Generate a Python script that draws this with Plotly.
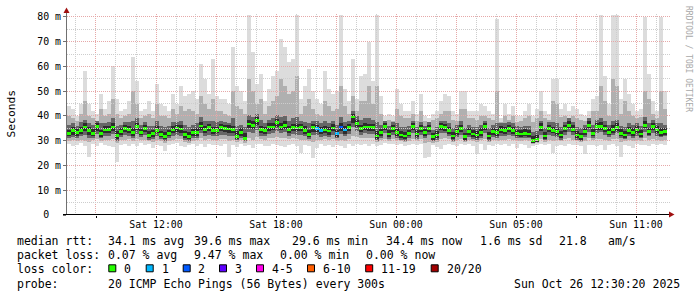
import math
import plotly.graph_objects as go

# ---------------- data ----------------
N_STEPS = 150
STEP_H = 0.2            # hours per smoke column
START_H = -16.45        # hours relative to Sun 00:00 (real time)

median_ms = [
    33.0, 34.0, 33.2, 34.0, 35.5, 34.2, 33.0, 35.8, 33.0, 34.3,
    34.5, 35.6, 32.0, 33.8, 35.0, 34.6, 33.2, 35.8, 33.4, 35.0,
    32.2, 32.8, 34.2, 32.6, 31.8, 33.0, 34.3, 35.2, 34.8, 32.4,
    31.6, 33.2, 33.4, 36.0, 34.6, 35.3, 34.0, 34.2,
    35.4, 35.0, 34.8, 34.5, 31.8, 33.2, 31.0, 36.8, 36.2, 38.2,
    34.5, 34.0, 35.5, 35.6, 37.4, 35.6, 36.3, 34.6, 35.4, 35.2,
    35.4, 34.2, 32.6, 35.3, 34.9, 34.0, 34.3, 33.9, 35.2, 32.8,
    35.5, 34.3, 35.3, 39.6, 37.0, 35.0, 35.6, 35.5,
    35.3, 31.9, 33.3, 35.7, 32.7, 35.0, 33.3, 32.3, 31.9, 33.0,
    35.7, 32.7, 35.0, 33.3, 35.0, 31.6, 32.3, 35.7, 35.4, 34.1,
    31.9, 33.7, 35.0, 31.6, 33.7, 32.7, 32.3, 33.3, 35.7, 31.9,
    33.7, 33.3, 34.3, 34.1, 35.0, 34.1, 33.0,
    32.7, 33.0, 32.7, 30.0, 30.4, 35.4, 31.9, 35.0, 34.1, 33.7,
    32.3, 35.0, 36.3, 34.6, 32.3, 31.6, 33.7, 36.3, 33.0, 35.7,
    35.9, 35.0, 33.3, 34.6, 35.4, 33.0, 32.3, 34.1, 33.3, 34.3,
    32.7, 36.3, 33.7, 35.7, 34.3, 33.3, 33.7,
]

max_ms = [
    44, 43, 40, 45, 58, 45, 42, 41, 49, 43,
    46, 60, 47, 42, 43, 46, 64, 54, 42, 43,
    46, 42, 53, 45, 44, 42, 49, 45, 52, 48,
    49, 50, 47, 61, 55, 49, 63, 48,
    47, 47, 45, 68, 52, 50, 46, 81, 66, 53,
    57, 46, 51, 56, 58, 71, 68, 62, 63, 81,
    47, 52, 59, 50, 47, 45, 58, 51, 49, 50,
    81, 51, 46, 63, 47, 56, 57, 70,
    54, 81, 48, 40, 41, 40, 51, 45, 42, 42,
    46, 41, 49, 40, 39, 41, 42, 46, 49, 48,
    42, 41, 50, 50, 42, 42, 42, 45, 44, 42,
    41, 79, 39, 45, 41, 44, 40,
    40, 42, 45, 40, 43, 50, 42, 41, 55, 55,
    43, 45, 42, 44, 43, 41, 40, 42, 47, 48,
    81, 56, 45, 81, 81, 47, 55, 49, 45, 42,
    43, 80, 57, 46, 42, 80, 50,
]

min_ms = [
    28.5, 27.8, 28.2, 29.0, 28.0, 23.6, 28.5, 28.0, 29.0, 28.3,
    28.0, 27.6, 21.6, 28.4, 28.8, 28.0, 28.5, 27.8, 29.0, 28.2,
    28.5, 27.0, 28.4, 28.0, 26.0, 28.2, 28.5, 29.0, 28.0, 27.6,
    28.3, 28.8, 28.0, 28.5, 27.5, 28.8, 28.2, 28.4,
    28.0, 28.5, 23.6, 28.2, 27.5, 28.6, 28.0, 28.4, 27.0, 28.8,
    28.5, 28.0, 27.8, 28.6, 28.2, 28.0, 27.5, 28.3, 28.8, 28.0,
    25.0, 28.4, 28.0, 23.0, 27.0, 28.5, 28.0, 28.2, 27.6, 28.4,
    28.0, 27.0, 28.5, 28.0, 28.6, 28.2, 28.5, 28.0,
    28.5, 28.0, 28.4, 29.0, 28.5, 28.8, 28.2, 28.6, 28.0, 28.4,
    28.8, 28.2, 28.5, 23.0, 23.6, 28.4, 27.6, 26.5, 28.2, 28.6,
    28.4, 28.0, 28.6, 28.2, 28.5, 28.0, 24.5, 28.6, 26.3, 28.4,
    28.0, 28.6, 28.2, 28.5, 28.0, 28.6, 27.0,
    28.5, 28.2, 27.0, 28.0, 28.4, 28.6, 28.2, 28.5, 25.0, 28.0,
    28.4, 28.0, 28.6, 28.2, 28.4, 28.0, 24.5, 28.4, 28.2, 28.0,
    28.4, 26.3, 28.2, 28.5, 28.0, 23.6, 28.4, 28.0, 27.0, 28.5,
    28.2, 28.4, 28.0, 28.6, 28.2, 28.5, 28.4,
]

outer_hi_ms = [
    40, 39, 38, 41, 46, 40, 39, 38, 43, 40,
    41, 47, 41, 39, 40, 41, 50, 45, 39, 40,
    41, 39, 45, 40, 40, 39, 43, 41, 44, 42,
    43, 42, 41, 48, 45, 43, 47, 42,
    42, 41, 40, 50, 44, 43, 41, 55, 50, 45,
    47, 41, 44, 46, 48, 55, 52, 49, 50, 56,
    41, 44, 47, 43, 41, 40, 46, 44, 42, 43,
    52, 44, 41, 48, 42, 46, 46, 52,
    45, 52, 41, 38, 38.5, 38, 43, 40, 39, 39,
    41, 38, 42, 38, 37.5, 38.5, 39, 41, 42, 42,
    38.5, 38, 43, 43, 39, 39, 38.5, 40, 40, 39,
    38.5, 50, 37.5, 40, 38.5, 40, 37.5,
    38, 39, 40, 37.5, 39, 42, 39, 38.5, 46, 45,
    39.5, 40, 39, 40, 39, 38.5, 38, 39, 42, 42,
    52, 46, 40, 55, 52, 41, 46, 42, 40, 39,
    39.5, 50, 47, 41, 39, 50, 43,
]

outer_lo_ms = [
    30.0, 30.2, 29.8, 30.5, 30.0, 29.5, 30.2, 30.6, 30.0, 30.4,
    30.5, 30.8, 29.0, 30.2, 30.5, 30.6, 30.0, 30.8, 30.2, 30.5,
    29.8, 29.5, 30.4, 29.8, 29.0, 30.0, 30.5, 30.8, 30.6, 29.6,
    29.2, 30.0, 30.2, 31.0, 30.5, 30.8, 30.4, 30.5,
    30.8, 30.6, 30.0, 30.5, 29.5, 30.2, 29.0, 31.0, 30.5, 31.5,
    30.8, 30.5, 31.0, 31.2, 31.5, 31.0, 31.2, 30.6, 31.0, 30.8,
    30.2, 30.5, 29.8, 29.5, 30.2, 30.4, 30.6, 30.2, 30.8, 29.8,
    30.5, 30.0, 30.8, 32.0, 31.5, 31.0, 31.2, 31.0,
    31.0, 29.5, 30.2, 30.8, 30.0, 30.6, 30.2, 29.8, 29.5, 30.0,
    30.8, 30.0, 30.6, 29.0, 29.5, 29.2, 29.4, 30.8, 31.0, 30.6,
    29.6, 30.2, 30.6, 29.5, 30.4, 30.0, 29.5, 30.2, 30.6, 29.6,
    30.2, 30.0, 30.4, 30.2, 30.6, 30.4, 30.0,
    30.0, 30.2, 30.0, 28.8, 29.0, 30.6, 29.6, 30.4, 30.0, 30.2,
    29.8, 30.6, 31.0, 30.4, 29.8, 29.4, 30.0, 31.0, 30.2, 30.8,
    30.8, 30.4, 30.0, 30.6, 30.8, 29.6, 29.8, 30.2, 30.0, 30.4,
    30.0, 31.0, 30.2, 30.8, 30.4, 30.0, 30.2,
]

inner_hi_ms = [
    36.5, 37.0, 36.0, 37.5, 38.5, 37.0, 36.5, 38.0, 37.0, 37.0,
    37.5, 39.0, 36.0, 36.5, 37.5, 37.5, 38.0, 39.0, 36.5, 37.5,
    36.0, 36.0, 38.0, 36.0, 35.5, 36.0, 37.5, 37.5, 38.0, 36.5,
    35.5, 36.5, 37.0, 39.5, 38.0, 38.0, 38.0, 37.5,
    38.0, 37.5, 37.0, 39.0, 36.0, 36.5, 35.5, 40.5, 39.5, 41.0,
    38.5, 37.0, 38.5, 39.0, 40.5, 39.5, 40.0, 38.0, 39.0, 39.5,
    38.0, 37.5, 37.0, 38.0, 38.0, 37.0, 38.0, 37.0, 38.0, 36.5,
    39.5, 37.5, 38.0, 42.0, 40.0, 38.5, 39.0, 39.0,
    38.5, 37.5, 36.5, 38.0, 36.0, 37.5, 37.0, 35.5, 35.5, 36.0,
    38.0, 35.5, 37.5, 36.0, 37.5, 34.5, 35.5, 38.0, 38.0, 37.0,
    35.0, 36.5, 38.0, 35.0, 36.5, 35.5, 35.5, 36.5, 38.0, 35.0,
    36.5, 37.0, 37.0, 37.0, 37.5, 37.0, 36.0,
    35.5, 36.0, 36.0, 33.5, 34.0, 38.0, 35.0, 37.5, 37.5, 37.0,
    35.5, 37.5, 39.0, 37.5, 35.5, 35.0, 36.5, 39.0, 36.5, 38.5,
    39.0, 38.0, 36.5, 38.0, 38.5, 36.0, 35.5, 37.0, 36.5, 37.0,
    36.0, 39.5, 37.0, 38.5, 37.0, 37.0, 36.5,
]

inner_lo_ms = [
    31.0, 31.5, 31.2, 31.8, 32.5, 31.0, 31.2, 32.8, 31.0, 32.0,
    32.0, 32.6, 30.0, 31.5, 32.5, 32.0, 31.0, 32.8, 31.5, 32.2,
    30.5, 30.8, 32.0, 30.6, 30.0, 31.0, 32.0, 32.5, 32.0, 30.5,
    30.0, 31.0, 31.2, 33.0, 32.0, 32.5, 31.8, 32.0,
    32.5, 32.2, 31.8, 32.0, 30.2, 31.0, 29.8, 33.5, 33.0, 34.5,
    32.0, 31.8, 32.8, 33.0, 34.0, 33.0, 33.5, 32.0, 32.8, 32.5,
    32.5, 31.8, 30.8, 32.5, 32.2, 31.6, 32.0, 31.5, 32.5, 31.0,
    32.8, 31.8, 32.6, 35.5, 34.0, 32.5, 33.0, 32.8,
    32.8, 30.0, 31.2, 33.0, 30.8, 32.5, 31.0, 30.5, 30.0, 31.0,
    33.0, 30.8, 32.5, 31.0, 32.5, 30.0, 30.5, 33.0, 33.0, 32.0,
    30.0, 31.5, 32.5, 30.0, 31.5, 30.8, 30.5, 31.2, 33.0, 30.0,
    31.5, 31.0, 32.0, 32.0, 32.5, 32.0, 31.0,
    31.0, 31.0, 31.0, 29.0, 29.4, 32.5, 30.5, 32.5, 32.0, 31.5,
    30.5, 32.5, 33.5, 32.5, 30.5, 30.0, 31.5, 33.5, 31.2, 33.0,
    33.5, 32.5, 31.5, 32.5, 33.0, 31.0, 30.6, 32.0, 31.2, 32.0,
    31.0, 33.5, 31.8, 33.0, 32.0, 31.5, 31.8,
]

core_hi_ms = [
    34.5, 35.5, 34.6, 35.6, 37.0, 35.5, 34.8, 37.0, 34.5, 35.8,
    35.8, 37.0, 34.0, 35.2, 36.5, 36.0, 35.0, 37.2, 34.8, 36.2,
    33.8, 34.5, 35.8, 34.0, 33.5, 34.5, 35.8, 36.5, 36.2, 34.0,
    33.5, 34.8, 35.0, 37.5, 36.0, 36.8, 35.6, 35.6,
    36.8, 36.5, 36.2, 36.0, 34.0, 35.0, 33.0, 38.5, 37.8, 39.5,
    36.0, 35.5, 37.0, 37.2, 38.8, 37.0, 37.8, 36.0, 36.8, 36.8,
    36.8, 35.8, 34.5, 36.8, 36.5, 35.5, 35.8, 35.5, 36.6, 34.5,
    37.2, 35.8, 36.8, 40.8, 38.5, 36.5, 37.0, 36.8,
    36.8, 34.0, 34.8, 37.2, 34.2, 36.5, 35.0, 34.0, 33.5, 34.5,
    37.2, 34.2, 36.5, 34.8, 36.5, 33.2, 34.0, 37.2, 36.8, 35.6,
    33.5, 35.2, 36.5, 33.2, 35.2, 34.2, 34.0, 35.0, 37.2, 33.5,
    35.2, 35.0, 35.8, 35.6, 36.5, 35.6, 34.5,
    34.2, 34.6, 34.4, 32.0, 32.2, 37.0, 33.5, 36.5, 35.6, 35.2,
    33.8, 36.5, 37.8, 36.2, 33.8, 33.2, 35.2, 37.8, 34.6, 37.2,
    37.5, 36.5, 35.0, 36.2, 37.0, 34.6, 34.0, 35.6, 35.0, 35.8,
    34.2, 37.8, 35.2, 37.2, 35.8, 35.0, 35.2,
]

core_lo_ms = [
    31.8, 32.5, 31.8, 32.6, 33.8, 32.5, 31.8, 34.0, 31.6, 33.0,
    33.0, 34.0, 30.8, 32.5, 33.6, 33.2, 32.0, 34.2, 32.2, 33.5,
    31.0, 31.5, 33.0, 31.4, 30.8, 31.8, 33.0, 33.6, 33.2, 31.2,
    30.6, 31.8, 32.0, 34.2, 33.2, 33.8, 32.8, 33.0,
    33.8, 33.5, 33.2, 33.0, 30.8, 31.8, 30.2, 35.0, 34.6, 36.5,
    33.0, 32.8, 34.0, 34.2, 35.5, 34.2, 34.8, 33.2, 34.0, 33.8,
    33.8, 32.8, 31.4, 33.6, 33.5, 32.6, 33.0, 32.5, 33.8, 31.6,
    34.0, 32.8, 34.0, 37.2, 35.5, 33.6, 34.2, 34.0,
    34.0, 30.8, 32.0, 34.2, 31.4, 33.6, 32.0, 31.0, 30.6, 31.8,
    34.2, 31.4, 33.6, 32.0, 33.6, 30.4, 31.0, 34.2, 34.0, 32.8,
    30.6, 32.4, 33.6, 30.4, 32.4, 31.4, 31.0, 32.0, 34.2, 30.6,
    32.4, 32.0, 33.0, 32.8, 33.6, 32.8, 31.8,
    31.4, 31.8, 31.4, 29.2, 29.6, 34.0, 30.8, 33.6, 33.0, 32.4,
    31.0, 33.6, 35.0, 33.4, 31.0, 30.4, 32.4, 35.0, 32.0, 34.2,
    34.5, 33.6, 32.2, 33.2, 34.0, 31.8, 31.0, 32.8, 32.0, 33.0,
    31.4, 35.0, 32.4, 34.4, 33.0, 32.0, 32.4,
]

# lost pings (of 20) per column, only where non-zero
lost_pings = {62: 1, 63: 1, 67: 1, 68: 2, 69: 1}

loss_labels = ["0", "1", "2", "3", "4-5", "6-10", "11-19", "20/20"]
loss_colors = ["#26ff00", "#00b8ff", "#0059ff", "#5e00ff",
               "#ff00ea", "#ff5e00", "#ff0000", "#a10000"]

x_tick_hours = [-15, -12, -9, -6, -3, 0, 3, 6, 9, 12]
x_tick_labels = ["", "Sat 12:00", "", "Sat 18:00", "", "Sun 00:00",
                 "", "Sun 05:00", "", "Sun 11:00"]
y_tick_values = [0, 10, 20, 30, 40, 50, 60, 70, 80]
y_tick_labels = ["0\u00a0\u00a0", "10 m", "20 m", "30 m", "40 m",
                 "50 m", "60 m", "70 m", "80 m"]

legend_lines = [
    [("median rtt:", 16), ("34.1 ms avg", 107.3), ("39.6 ms max", 193.3),
     ("29.6 ms min", 291.0), ("34.4 ms now", 385.3), ("1.6 ms sd", 479.3),
     ("21.8", 557.7), ("am/s", 606.7)],
    [("packet loss:", 16), ("0.07 % avg", 107.3), ("9.47 % max", 193.3),
     ("0.00 % min", 279.0), ("0.00 % now", 365.3)],
    [("loss color:", 16)],
    [("probe:", 16), ("20 ICMP Echo Pings (56 Bytes) every 300s", 107.3),
     ("Sun Oct 26 12:30:20 2025", 513.3)],
]
legend_line_y = [241.3, 255.3, 269.3, 283.7]
loss_box_x = [108.3, 145.7, 182.7, 219.0, 256.0, 307.0, 365.2, 430.7]
loss_label_x = [123.3, 160.7, 197.3, 234.3, 270.7, 322.0, 380.2, 445.7]

# ---------------- geometry ----------------
W, H = 697, 297
PL, PT, PW, PH = 67, 15, 600, 200
Y_MAX = 80.8
X_MIN = START_H
X_MAX = START_H + N_STEPS * STEP_H
MONO = "DejaVu Sans Mono"


def px_x(px):
    return (px - PL) / PW


def px_y(py):
    return (PT + PH - py) / PH


def loss_bucket(n):
    if n <= 3:
        return n
    if n <= 5:
        return 4
    if n <= 10:
        return 5
    if n <= 19:
        return 6
    return 7


hours = [START_H + STEP_H * (i + 0.5) for i in range(N_STEPS)]

fig = go.Figure()

bands = [
    (min_ms, max_ms, "#dcdcdc"),
    (outer_lo_ms, outer_hi_ms, "#b0b0b0"),
    (inner_lo_ms, inner_hi_ms, "#666666"),
    (core_lo_ms, core_hi_ms, "#2c2c2c"),
]
for lo, hi, col in bands:
    fig.add_trace(go.Bar(
        x=hours, base=lo, y=[h - l for l, h in zip(lo, hi)], width=STEP_H,
        marker=dict(color=col, line=dict(width=0)), opacity=1,
        hoverinfo="skip", showlegend=False))

MED_H = 1.1
med_colors = [loss_colors[loss_bucket(lost_pings.get(i, 0))] for i in range(N_STEPS)]
fig.add_trace(go.Bar(
    x=hours, base=[m - MED_H / 2 for m in median_ms], y=[MED_H] * N_STEPS,
    width=STEP_H, marker=dict(color=med_colors, line=dict(width=0)), opacity=1,
    hoverinfo="skip", showlegend=False))

shapes = []
MAJ = "#e6a8a8"
MIN = "#cdcdcd"
# vertical grid: every hour, major every 3 h
for h in range(math.ceil(X_MIN), math.floor(X_MAX) + 1):
    px = math.floor(PL + PW * (h - X_MIN) / (X_MAX - X_MIN)) + 0.5
    shapes.append(dict(type="line", xref="paper", yref="paper",
                       x0=px_x(px), x1=px_x(px), y0=0, y1=px_y(PT - 2),
                       line=dict(color=MAJ if h % 3 == 0 else MIN, width=1, dash="1px,1px"),
                       layer="above"))
# horizontal grid: every 5 ms, major every 10 ms
for v in range(5, 81, 5):
    py = math.floor(PT + PH * (1 - v / Y_MAX)) + 0.5
    shapes.append(dict(type="line", xref="paper", yref="paper",
                       x0=0, x1=px_x(670), y0=px_y(py), y1=px_y(py),
                       line=dict(color=MAJ if v % 10 == 0 else MIN, width=1, dash="1px,1px"),
                       layer="above"))
# axes lines + arrows
shapes.append(dict(type="line", xref="paper", yref="paper",
                   x0=px_x(66.5), x1=px_x(66.5), y0=px_y(215), y1=px_y(11),
                   line=dict(color="#707070", width=1), layer="above"))
shapes.append(dict(type="line", xref="paper", yref="paper",
                   x0=px_x(63), x1=px_x(670), y0=px_y(214.5), y1=px_y(214.5),
                   line=dict(color="#000000", width=1), layer="above"))
shapes.append(dict(type="path", xref="paper", yref="paper",
                   path="M {} {} L {} {} L {} {} Z".format(
                       px_x(63.5), px_y(13), px_x(69.5), px_y(13), px_x(66.5), px_y(7.5)),
                   fillcolor="#a01010", line=dict(width=0), layer="above"))
shapes.append(dict(type="path", xref="paper", yref="paper",
                   path="M {} {} L {} {} L {} {} Z".format(
                       px_x(669), px_y(211.5), px_x(669), px_y(217.5), px_x(674.5), px_y(214.5)),
                   fillcolor="#a01010", line=dict(width=0), layer="above"))
# loss colour boxes
for bx, col in zip(loss_box_x, loss_colors):
    shapes.append(dict(type="rect", xref="paper", yref="paper",
                       x0=px_x(bx + 0.5), x1=px_x(bx + 7.5),
                       y0=px_y(264.8), y1=px_y(271.8),
                       fillcolor=col, line=dict(color="#000000", width=1)))

annotations = []
for line, ly in zip(legend_lines, legend_line_y):
    for txt, lx in line:
        annotations.append(dict(text=txt, xref="paper", yref="paper",
                                x=px_x(lx), y=px_y(ly), xanchor="left", yanchor="middle",
                                showarrow=False, borderpad=0,
                                font=dict(family=MONO, size=11.5, color="#000000")))
for lab, lx in zip(loss_labels, loss_label_x):
    annotations.append(dict(text=lab, xref="paper", yref="paper",
                            x=px_x(lx), y=px_y(legend_line_y[2]), xanchor="left",
                            yanchor="middle", showarrow=False, borderpad=0,
                            font=dict(family=MONO, size=11.5, color="#000000")))
annotations.append(dict(text="Seconds", xref="paper", yref="paper",
                        x=px_x(11), y=px_y(113.5), xanchor="center", yanchor="middle",
                        textangle=-90, showarrow=False, borderpad=0,
                        font=dict(family=MONO, size=11.3, color="#000000")))
annotations.append(dict(text="RRDTOOL / TOBI OETIKER", xref="paper", yref="paper",
                        x=px_x(688.5), y=px_y(58.5), xanchor="center", yanchor="middle",
                        textangle=90, showarrow=False, borderpad=0,
                        font=dict(family=MONO, size=8, color="#a8a8a8")))

fig.update_layout(
    width=W, height=H, autosize=False,
    margin=dict(l=PL, r=W - PL - PW, t=PT, b=H - PT - PH, pad=0),
    paper_bgcolor="#ffffff", plot_bgcolor="#ffffff",
    barmode="overlay", bargap=0, showlegend=False,
    shapes=shapes, annotations=annotations,
    xaxis=dict(range=[X_MIN, X_MAX], tickmode="array", tickvals=x_tick_hours,
               ticktext=x_tick_labels, ticks="outside", ticklen=2, tickcolor="#000000",
               ticklabelstandoff=-2,
               showgrid=False, zeroline=False, showline=False, fixedrange=True,
               tickfont=dict(family=MONO, size=9.9, color="#000000")),
    yaxis=dict(range=[0, Y_MAX], tickmode="array", tickvals=y_tick_values,
               ticktext=y_tick_labels, ticks="outside", ticklen=3, tickcolor="#707070",
               showgrid=False, zeroline=False, showline=False, fixedrange=True,
               tickfont=dict(family=MONO, size=9.9, color="#000000")),
)

fig.write_html("out.html", config={"displayModeBar": False})
